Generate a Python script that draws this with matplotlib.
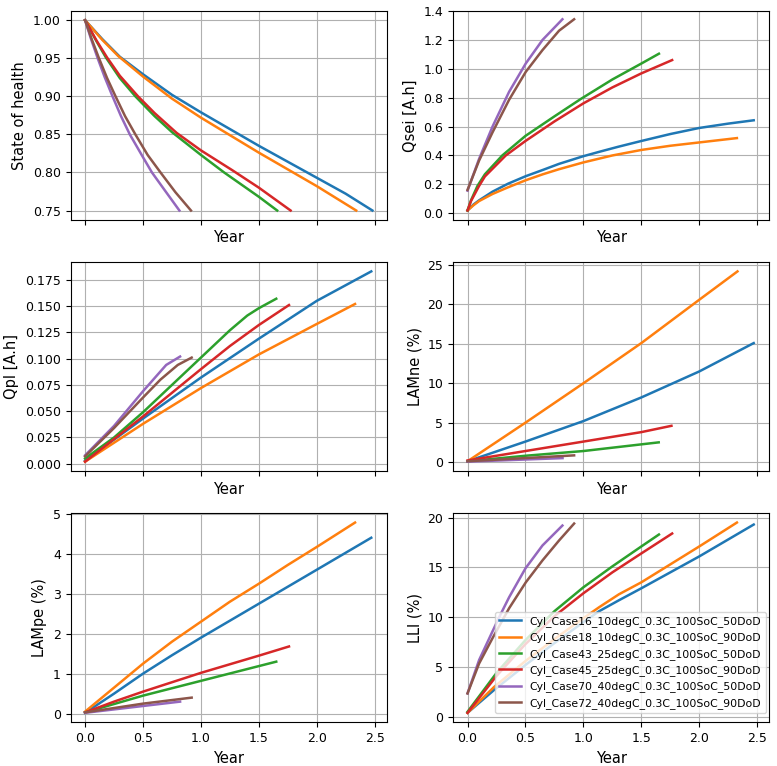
import numpy as np
from matplotlib import pyplot as plt
from matplotlib.ticker import MultipleLocator

labels = [
    "Cyl_Case16_10degC_0.3C_100SoC_50DoD",
    "Cyl_Case18_10degC_0.3C_100SoC_90DoD",
    "Cyl_Case43_25degC_0.3C_100SoC_50DoD",
    "Cyl_Case45_25degC_0.3C_100SoC_90DoD",
    "Cyl_Case70_40degC_0.3C_100SoC_50DoD",
    "Cyl_Case72_40degC_0.3C_100SoC_90DoD",
]

# State of health (years / values per case)
soh_years = [
    [0, 0.15, 0.3, 0.5, 0.75, 1.0, 1.25, 1.5, 1.75, 2.0, 2.25, 2.48],
    [0, 0.15, 0.286, 0.5, 0.75, 1.0, 1.25, 1.5, 1.75, 2.0, 2.34],
    [0, 0.1, 0.18, 0.3, 0.434, 0.6, 0.75, 1.0, 1.2, 1.5, 1.658],
    [0, 0.1, 0.19, 0.3, 0.457, 0.6, 0.79, 1.0, 1.27, 1.5, 1.774],
    [0, 0.05, 0.109, 0.17, 0.237, 0.31, 0.386, 0.5, 0.577, 0.7, 0.814],
    [0, 0.06, 0.12, 0.19, 0.263, 0.345, 0.434, 0.54, 0.651, 0.78, 0.914],
]
soh_vals = [
    [1.0, 0.975, 0.952, 0.929, 0.902, 0.879, 0.857, 0.835, 0.814, 0.793, 0.772, 0.75],
    [1.0, 0.974, 0.953, 0.926, 0.897, 0.872, 0.849, 0.826, 0.804, 0.782, 0.75],
    [1.0, 0.972, 0.951, 0.924, 0.90, 0.874, 0.853, 0.823, 0.80, 0.768, 0.75],
    [1.0, 0.973, 0.951, 0.927, 0.90, 0.878, 0.852, 0.829, 0.803, 0.78, 0.75],
    [1.0, 0.976, 0.95, 0.925, 0.90, 0.874, 0.85, 0.82, 0.80, 0.774, 0.75],
    [1.0, 0.974, 0.95, 0.924, 0.90, 0.874, 0.85, 0.823, 0.80, 0.774, 0.75],
]

qsei_years = [
    [0, 0.05, 0.1, 0.216, 0.35, 0.503, 0.65, 0.79, 1.0, 1.136, 1.3, 1.5, 1.75, 2.0, 2.25, 2.47],
    [0, 0.05, 0.1, 0.216, 0.35, 0.503, 0.65, 0.79, 1.0, 1.25, 1.5, 1.75, 2.0, 2.325],
    [0, 0.03, 0.086, 0.15, 0.3, 0.5, 0.75, 0.977, 1.25, 1.5, 1.652],
    [0, 0.03, 0.1, 0.15, 0.33, 0.5, 0.75, 1.0, 1.25, 1.5, 1.766],
    [0, 0.1, 0.216, 0.359, 0.503, 0.647, 0.819],
    [0, 0.1, 0.216, 0.359, 0.503, 0.647, 0.79, 0.92],
]
qsei_vals = [
    [0.02, 0.06, 0.09, 0.15, 0.205, 0.257, 0.30, 0.342, 0.395, 0.425, 0.46, 0.50, 0.548, 0.59, 0.62, 0.643],
    [0.02, 0.055, 0.085, 0.134, 0.18, 0.229, 0.27, 0.305, 0.352, 0.40, 0.438, 0.467, 0.49, 0.52],
    [0.02, 0.09, 0.19, 0.27, 0.40, 0.535, 0.67, 0.79, 0.925, 1.035, 1.103],
    [0.02, 0.085, 0.19, 0.255, 0.40, 0.50, 0.635, 0.76, 0.87, 0.967, 1.059],
    [0.157, 0.377, 0.60, 0.84, 1.036, 1.198, 1.341],
    [0.162, 0.365, 0.56, 0.785, 0.978, 1.128, 1.262, 1.341],
]

qpl_years = [
    [0, 0.5, 1.0, 1.5, 2.0, 2.47],
    [0, 0.5, 1.0, 1.5, 2.0, 2.33],
    [0, 0.25, 0.5, 0.75, 1.0, 1.25, 1.4, 1.5, 1.65],
    [0, 0.5, 1.0, 1.25, 1.5, 1.76],
    [0, 0.25, 0.5, 0.7, 0.82],
    [0, 0.25, 0.5, 0.65, 0.8, 0.92],
]
qpl_vals = [
    [0.003, 0.043, 0.082, 0.119, 0.155, 0.183],
    [0.002, 0.038, 0.072, 0.104, 0.133, 0.152],
    [0.005, 0.025, 0.049, 0.075, 0.101, 0.127, 0.141, 0.148, 0.157],
    [0.002, 0.045, 0.090, 0.112, 0.132, 0.151],
    [0.008, 0.036, 0.069, 0.094, 0.102],
    [0.007, 0.034, 0.063, 0.080, 0.094, 0.101],
]

lamne_years = [
    [0, 0.5, 1.0, 1.5, 2.0, 2.47],
    [0, 0.5, 1.0, 1.5, 2.0, 2.33],
    [0, 0.5, 1.0, 1.65],
    [0, 0.5, 1.0, 1.5, 1.76],
    [0, 0.82],
    [0, 0.92],
]
lamne_vals = [
    [0.1, 2.6, 5.2, 8.2, 11.5, 15.1],
    [0.1, 5.0, 10.0, 15.1, 20.6, 24.2],
    [0.1, 0.8, 1.4, 2.5],
    [0.2, 1.4, 2.6, 3.8, 4.6],
    [0.05, 0.5],
    [0.1, 0.85],
]

lampe_years = [
    [0, 0.25, 0.5, 0.75, 1.0, 1.5, 2.0, 2.47],
    [0, 0.25, 0.5, 0.75, 1.0, 1.25, 1.5, 1.75, 2.0, 2.33],
    [0, 0.5, 1.0, 1.65],
    [0, 0.25, 0.5, 1.0, 1.5, 1.76],
    [0, 0.82],
    [0, 0.5, 0.92],
]
lampe_vals = [
    [0.02, 0.5, 1.0, 1.46, 1.9, 2.75, 3.6, 4.4],
    [0.05, 0.65, 1.25, 1.8, 2.3, 2.8, 3.25, 3.72, 4.17, 4.78],
    [0.03, 0.45, 0.82, 1.3],
    [0.03, 0.3, 0.55, 1.02, 1.45, 1.68],
    [0.02, 0.3],
    [0.03, 0.25, 0.4],
]

lli_years = [
    [0, 0.23, 0.5, 0.75, 1.0, 1.136, 1.307, 1.5, 2.0, 2.47],
    [0, 0.23, 0.5, 0.75, 1.0, 1.136, 1.307, 1.5, 2.0, 2.325],
    [0, 0.25, 0.5, 0.75, 1.0, 1.25, 1.5, 1.652],
    [0, 0.25, 0.5, 0.75, 1.0, 1.25, 1.5, 1.766],
    [0, 0.1, 0.273, 0.359, 0.5, 0.647, 0.819],
    [0, 0.1, 0.216, 0.359, 0.503, 0.647, 0.79, 0.92],
]
lli_vals = [
    [0.4, 2.7, 5.2, 7.4, 9.5, 10.6, 11.7, 12.9, 16.1, 19.3],
    [0.4, 3.0, 5.6, 7.8, 9.9, 11.0, 12.3, 13.5, 17.1, 19.5],
    [0.5, 4.4, 7.7, 10.6, 13.0, 15.1, 17.1, 18.3],
    [0.4, 4.1, 7.3, 10.1, 12.4, 14.5, 16.4, 18.4],
    [2.35, 5.7, 10.0, 12.0, 14.9, 17.2, 19.2],
    [2.35, 5.35, 7.9, 10.9, 13.5, 15.7, 17.7, 19.4],
]

panels = [
    (soh_years, soh_vals, "State of health"),
    (qsei_years, qsei_vals, "Qsei [A.h]"),
    (qpl_years, qpl_vals, "Qpl [A.h]"),
    (lamne_years, lamne_vals, "LAMne (%)"),
    (lampe_years, lampe_vals, "LAMpe (%)"),
    (lli_years, lli_vals, "LLI (%)"),
]

fig, axes = plt.subplots(3, 2, figsize=(7.77, 7.66), dpi=100, sharex=True)
fig.subplots_adjust(left=0.091, right=0.99, top=0.986, bottom=0.057,
                    wspace=0.21, hspace=0.2)

for ax, (years, vals, ylabel) in zip(axes.flat, panels):
    for i, label in enumerate(labels):
        ax.plot(years[i], vals[i], color=f"C{i}", lw=1.8, label=label)
    ax.set_xlabel("Year", fontsize=10.5)
    ax.set_ylabel(ylabel, fontsize=10.5)
    ax.tick_params(labelsize=9)
    ax.grid(True)

axes[0, 1].set_ylim(top=1.4)
axes[0, 1].yaxis.set_major_locator(MultipleLocator(0.2))
axes[1, 0].yaxis.set_major_locator(MultipleLocator(0.025))
axes[2, 1].legend(loc="lower right", fontsize=7.8,
                  bbox_to_anchor=(1.006, 0.019))

plt.savefig("out.png")
